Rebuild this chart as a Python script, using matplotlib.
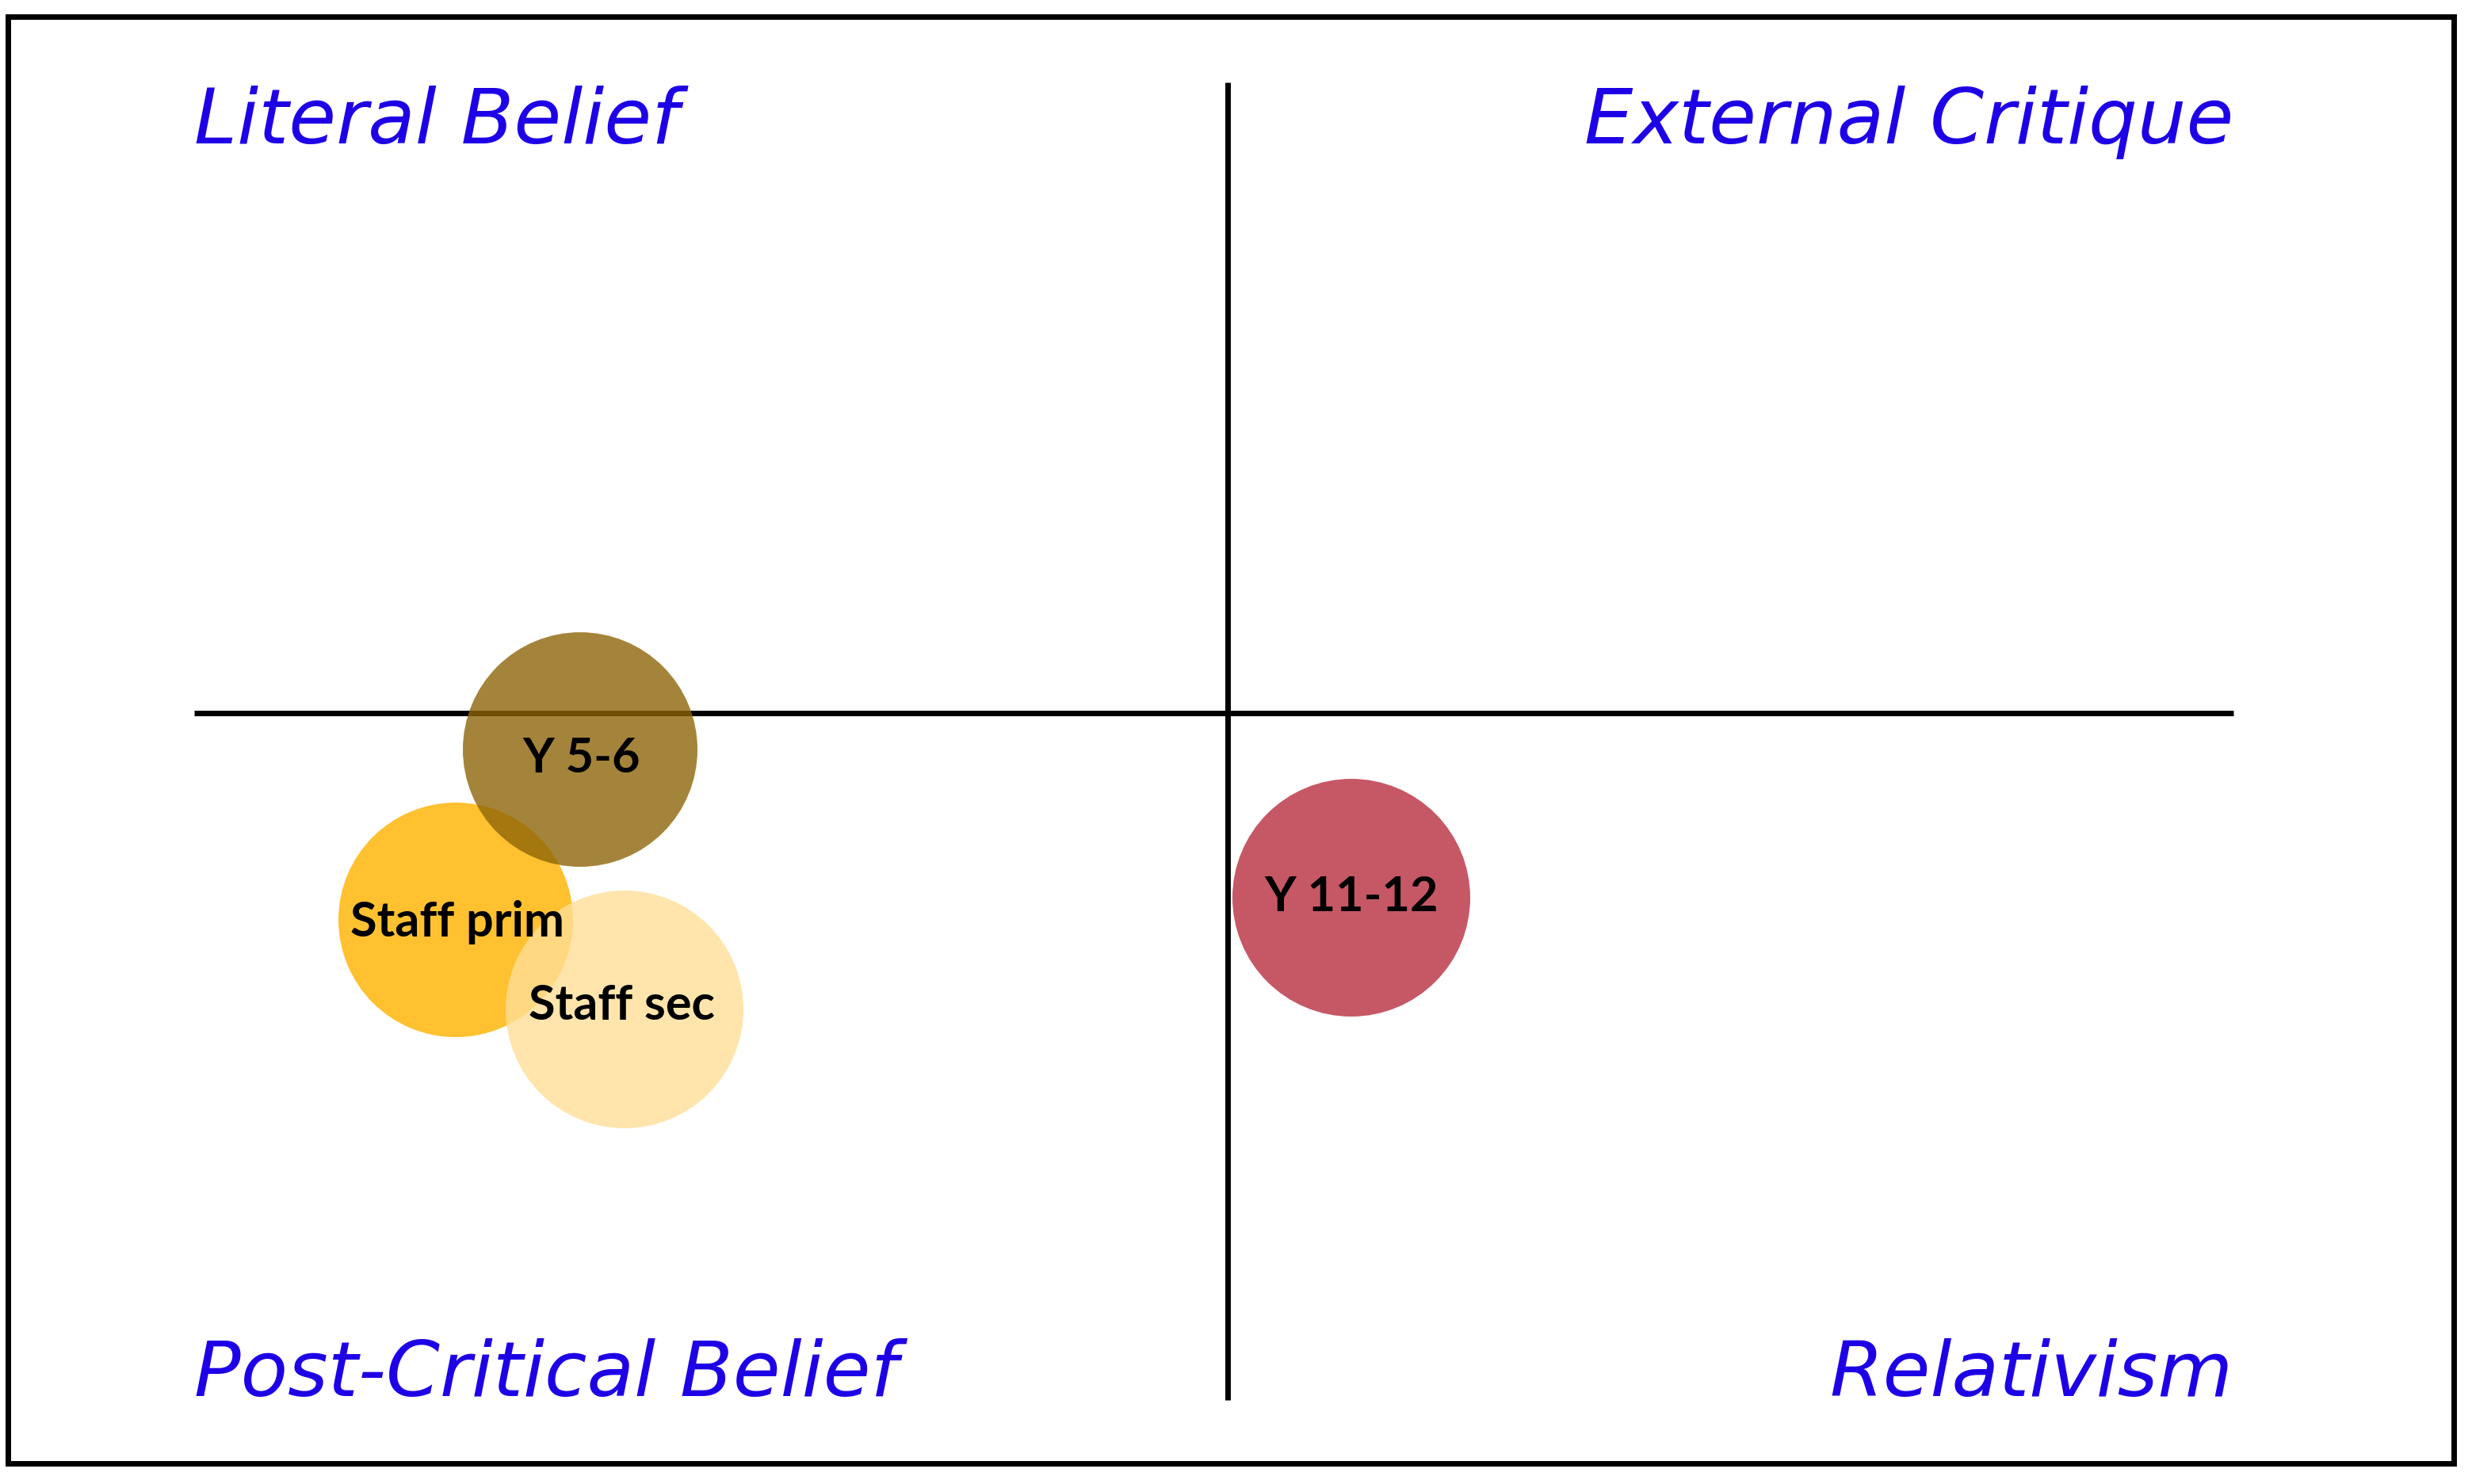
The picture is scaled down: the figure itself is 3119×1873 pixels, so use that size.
import matplotlib.pyplot as plt
from matplotlib.patches import Circle, Rectangle

# circle groups (positions, pixel units, y down)
groups = ['Y 5-6', 'Staff prim', 'Staff sec', 'Y 11-12']
centre_x = [732, 575, 788, 1705]
centre_y = [947, 1162, 1275, 1134]
radius = [148, 148, 150, 150]
colours = ['#8E6508', '#FFC12F', '#FFDF97', '#C65865']
alphas = [0.8, 1.0, 0.8, 1.0]
zorders = [4, 3, 5, 3]

# quadrant labels
quadrants = ['Literal Belief', 'External Critique', 'Post-Critical Belief', 'Relativism']

W, H = 3119, 1874
fig = plt.figure(figsize=(W / 100, H / 100), dpi=100)
ax = fig.add_axes([0, 0, 1, 1])
ax.set_xlim(0, W)
ax.set_ylim(H, 0)
ax.set_aspect('equal')
ax.axis('off')

# frame
ax.add_patch(Rectangle((10, 22), 3086, 1826, fill=False, edgecolor='black', linewidth=5, zorder=1))

# cross
ax.plot([245, 2818], [901, 901], color='black', linewidth=5, zorder=2, solid_capstyle='butt')
ax.plot([1549, 1549], [105, 1768], color='black', linewidth=5, zorder=2, solid_capstyle='butt')

# circles
for i in range(len(groups)):
    c = Circle((centre_x[i], centre_y[i]), radius[i], facecolor=colours[i],
               edgecolor='none', alpha=alphas[i], zorder=zorders[i])
    ax.add_patch(c)

label_dy = [10, 2, -6, -2]
label_dx = [2, 2, -4, 0]
for i in range(len(groups)):
    ax.text(centre_x[i] + label_dx[i], centre_y[i] + label_dy[i], groups[i], ha='center', va='center',
            fontsize=44, fontweight='bold', family=['Lato', 'DejaVu Sans'], color='black', zorder=6)

blue = '#1E00E6'
qs = dict(fontsize=70, style='italic', color=blue, family='DejaVu Sans')
ax.text(245, 181, quadrants[0], ha='left', va='baseline', **qs)
ax.text(2818, 181, quadrants[1], ha='right', va='baseline', **qs)
ax.text(245, 1762, quadrants[2], ha='left', va='baseline', **qs)
ax.text(2818, 1762, quadrants[3], ha='right', va='baseline', **qs)

fig.savefig('out.png', dpi=100, facecolor='white')
